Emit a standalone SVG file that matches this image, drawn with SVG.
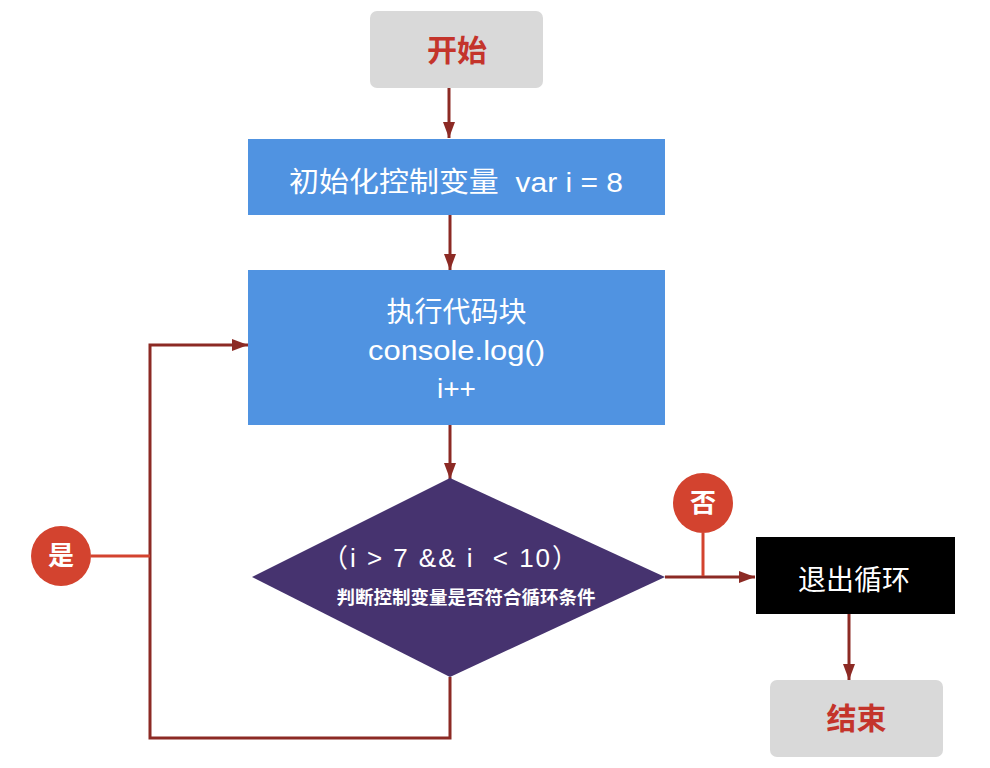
<svg xmlns="http://www.w3.org/2000/svg" width="990" height="768" viewBox="0 0 990 768">
<defs>
<marker id="arrL" markerWidth="16" markerHeight="12" refX="16" refY="6" orient="auto" markerUnits="userSpaceOnUse" viewBox="0 0 16 12">
<path d="M0,0 L16,6 L0,12 z" fill="#8c2a24"/>
</marker>
</defs>
<style>
text{font-family:"Liberation Sans","Noto Sans CJK SC",sans-serif;text-anchor:middle}
.term{fill:#d9d9d9}
.termt{fill:#c4342b;font-size:30px;font-weight:bold}
.proc{fill:#5093e1}
.wt{fill:#ffffff;font-size:28px}
.conn{stroke:#8c2a24;stroke-width:3;fill:none}
.lbl{fill:#d3432f}
.lbll{stroke:#d3432f;stroke-width:3;fill:none}
.lblt{fill:#ffffff;font-size:26px;font-weight:bold}
</style>
<rect width="990" height="768" fill="#ffffff"/>
<g id="connectors">
<line class="conn" x1="449" y1="88" x2="449" y2="138" marker-end="url(#arrL)"/>
<line class="conn" x1="450" y1="215" x2="450" y2="270" marker-end="url(#arrL)"/>
<line class="conn" x1="450" y1="425" x2="450" y2="479" marker-end="url(#arrL)"/>
<polyline class="conn" points="450,677 450,738 150,738 150,345 248,345" marker-end="url(#arrL)"/>
<line class="conn" x1="665" y1="577" x2="755" y2="577" marker-end="url(#arrL)"/>
<line class="conn" x1="849" y1="614" x2="849" y2="680" marker-end="url(#arrL)"/>
<line class="lbll" x1="91" y1="556" x2="150" y2="556"/>
<line class="lbll" x1="703" y1="533" x2="703" y2="576"/>
</g>
<g id="start">
<rect class="term" x="370" y="11" width="173" height="77" rx="7"/>
<text class="termt" x="457" y="61">开始</text>
</g>
<g id="init">
<rect class="proc" x="248" y="139" width="417" height="76"/>
<text class="wt" x="456" y="192" xml:space="preserve" textLength="334" lengthAdjust="spacingAndGlyphs">初始化控制变量  var i = 8</text>
</g>
<g id="exec">
<rect class="proc" x="248" y="270" width="417" height="155"/>
<text class="wt" x="456.5" y="322">执行代码块</text>
<text class="wt" x="456.5" y="360" textLength="177" lengthAdjust="spacingAndGlyphs">console.log()</text>
<text class="wt" x="456.5" y="398">i++</text>
</g>
<g id="decision">
<polygon points="450,478 665,577 450,677 252,577" fill="#46336f"/>
<text class="wt" x="450" y="567" style="font-size:26px" xml:space="preserve" textLength="256" lengthAdjust="spacing">（i &gt; 7 &amp;&amp; i  &lt; 10）</text>
<text x="466" y="604" fill="#ffffff" style="font-size:18.5px;font-weight:bold">判断控制变量是否符合循环条件</text>
</g>
<g id="yes">
<circle class="lbl" cx="61" cy="556" r="30"/>
<text class="lblt" x="61" y="565">是</text>
</g>
<g id="no">
<circle class="lbl" cx="703" cy="503" r="30"/>
<text class="lblt" x="703" y="512">否</text>
</g>
<g id="exit">
<rect x="756" y="537" width="199" height="77" fill="#000000"/>
<text class="wt" x="854" y="590">退出循环</text>
</g>
<g id="end">
<rect class="term" x="770" y="680" width="173" height="77" rx="7"/>
<text class="termt" x="856.5" y="729">结束</text>
</g>
</svg>
